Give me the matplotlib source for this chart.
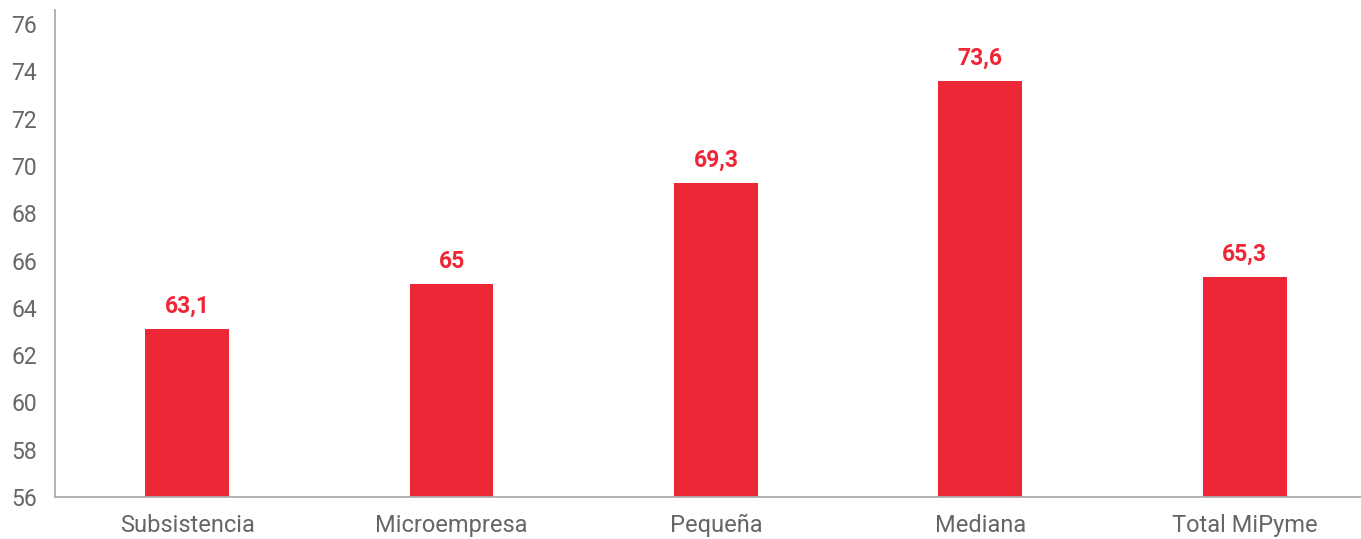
import matplotlib
matplotlib.use("Agg")
import matplotlib.pyplot as plt

categories = ["Subsistencia", "Microempresa", "Pequeña", "Mediana", "Total MiPyme"]
values = [63.1, 65.0, 69.3, 73.6, 65.3]
value_labels = ["63,1", "65", "69,3", "73,6", "65,3"]
yticks = list(range(56, 77, 2))

RED = "#EE2737"
GREY = "#666666"

plt.rcParams["font.family"] = ["Roboto", "DejaVu Sans"]

fig = plt.figure(figsize=(13.61, 5.39), dpi=100)
ax = fig.add_axes([55 / 1361, 1 - 497 / 539, 1 - 55 / 1361, (497 - 10) / 539])

x = range(len(categories))
ax.bar(x, values, width=0.317, color=RED)
for xi, v, lab in zip(x, values, value_labels):
    ax.annotate(lab, (xi, v), xytext=(0, 8), textcoords="offset points",
                ha="center", va="bottom", color=RED, fontsize=16.5, fontweight="bold")

ax.set_ylim(56, 76.6)
ax.set_xlim(-0.5, 4.44)
ax.set_yticks(yticks)
ax.set_xticks(list(x))
ax.set_xticklabels(categories, fontsize=17)
ax.tick_params(axis="both", length=0, labelcolor=GREY)
ax.tick_params(axis="y", pad=13, labelsize=16.5)
ax.tick_params(axis="x", pad=12)

for side in ["top", "right"]:
    ax.spines[side].set_visible(False)
for side in ["left", "bottom"]:
    ax.spines[side].set_color("#ADADAD")
    ax.spines[side].set_linewidth(1.3)

fig.savefig("out.png", dpi=100)
